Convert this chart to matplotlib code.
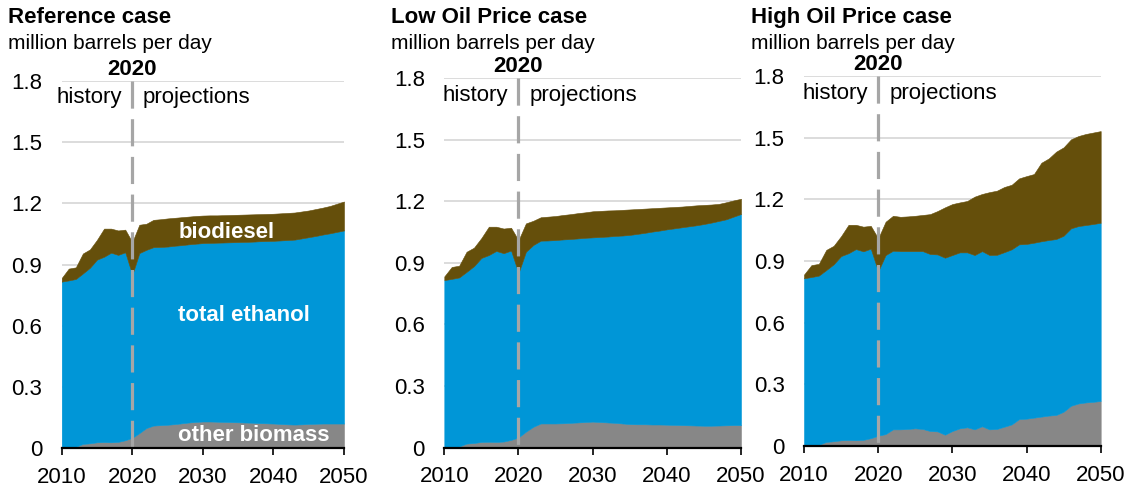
import numpy as np
import matplotlib
matplotlib.use("Agg")
import matplotlib.pyplot as plt

plt.rcParams['font.family'] = ['Liberation Sans', 'DejaVu Sans']

years = list(range(2010, 2051))

# ---- history 2010-2020 (shared by all cases) ----
hist_other = [0.000, 0.002, 0.006, 0.020, 0.023, 0.028, 0.029, 0.028, 0.030, 0.038, 0.050]
hist_ethanol = [0.816, 0.820, 0.823, 0.836, 0.861, 0.896, 0.909, 0.930, 0.917, 0.922, 0.800]
hist_biodiesel = [0.018, 0.058, 0.057, 0.098, 0.090, 0.097, 0.138, 0.118, 0.120, 0.111, 0.160]

# ---- projections 2021-2050 ----
ref_other = [0.073, 0.098, 0.110, 0.112, 0.114, 0.117, 0.121, 0.125, 0.128, 0.130,
             0.130, 0.129, 0.128, 0.127, 0.126, 0.125, 0.124, 0.122, 0.121, 0.120,
             0.118, 0.116, 0.115, 0.116, 0.118, 0.119, 0.120, 0.120, 0.120, 0.120]
ref_ethanol = [0.883, 0.874, 0.875, 0.874, 0.874, 0.875, 0.874, 0.874, 0.874, 0.875,
               0.876, 0.878, 0.880, 0.882, 0.884, 0.886, 0.888, 0.892, 0.894, 0.896,
               0.900, 0.904, 0.907, 0.912, 0.916, 0.921, 0.927, 0.933, 0.940, 0.947]
ref_biodiesel = [0.139, 0.128, 0.134, 0.136, 0.138, 0.137, 0.137, 0.136, 0.136, 0.135,
                 0.135, 0.134, 0.134, 0.134, 0.134, 0.134, 0.134, 0.133, 0.133, 0.133,
                 0.133, 0.133, 0.133, 0.132, 0.131, 0.132, 0.132, 0.134, 0.138, 0.142]

low_other = [0.078, 0.102, 0.118, 0.118, 0.118, 0.119, 0.121, 0.123, 0.125, 0.127,
             0.125, 0.123, 0.121, 0.118, 0.115, 0.114, 0.114, 0.113, 0.113, 0.112,
             0.111, 0.110, 0.109, 0.108, 0.107, 0.107, 0.108, 0.109, 0.110, 0.110]
low_ethanol = [0.876, 0.885, 0.890, 0.891, 0.893, 0.895, 0.895, 0.896, 0.897, 0.897,
               0.901, 0.905, 0.910, 0.915, 0.921, 0.927, 0.932, 0.939, 0.944, 0.951,
               0.957, 0.963, 0.969, 0.975, 0.982, 0.989, 0.996, 1.003, 1.015, 1.028]
low_biodiesel = [0.138, 0.118, 0.114, 0.116, 0.117, 0.119, 0.121, 0.123, 0.124, 0.127,
                 0.127, 0.127, 0.125, 0.125, 0.124, 0.121, 0.118, 0.114, 0.111, 0.107,
                 0.104, 0.101, 0.099, 0.097, 0.093, 0.088, 0.083, 0.083, 0.079, 0.074]

high_other = [0.058, 0.081, 0.081, 0.083, 0.086, 0.083, 0.073, 0.071, 0.055, 0.073,
              0.086, 0.091, 0.081, 0.096, 0.081, 0.083, 0.094, 0.105, 0.131, 0.133,
              0.138, 0.143, 0.148, 0.151, 0.167, 0.196, 0.207, 0.212, 0.215, 0.219]
high_ethanol = [0.871, 0.869, 0.867, 0.865, 0.862, 0.865, 0.861, 0.861, 0.861, 0.856,
                0.856, 0.851, 0.848, 0.852, 0.848, 0.847, 0.849, 0.852, 0.850, 0.850,
                0.851, 0.853, 0.854, 0.856, 0.856, 0.863, 0.863, 0.863, 0.865, 0.867]
high_biodiesel = [0.162, 0.170, 0.167, 0.169, 0.172, 0.176, 0.194, 0.211, 0.245, 0.248,
                  0.243, 0.250, 0.284, 0.278, 0.306, 0.312, 0.317, 0.314, 0.321, 0.330,
                  0.334, 0.382, 0.397, 0.425, 0.430, 0.433, 0.438, 0.443, 0.445, 0.446]

titles = ["Reference case", "Low Oil Price case", "High Oil Price case"]
subtitle = "million barrels per day"
yticks = [0, 0.3, 0.6, 0.9, 1.2, 1.5, 1.8]
yticklabels = ["0", "0.3", "0.6", "0.9", "1.2", "1.5", "1.8"]
xticks = [2010, 2020, 2030, 2040, 2050]
series_labels = ["other biomass", "total ethanol", "biodiesel"]

cases = [
    (hist_other + ref_other, hist_ethanol + ref_ethanol, hist_biodiesel + ref_biodiesel),
    (hist_other + low_other, hist_ethanol + low_ethanol, hist_biodiesel + low_biodiesel),
    (hist_other + high_other, hist_ethanol + high_ethanol, hist_biodiesel + high_biodiesel),
]

colors = ["#878787", "#0096D7", "#654F0B"]

W, H = 1130, 486
fig = plt.figure(figsize=(W / 100, H / 100), dpi=100)

# axes boxes in pixels: (left, right, y_zero, y_top)
boxes = [(61.7, 344.0, 448.0, 81.0),
         (444.3, 741.0, 447.7, 78.0),
         (804.0, 1100.7, 446.0, 76.0)]
title_x = [8, 391, 751]

for i, (case, box) in enumerate(zip(cases, boxes)):
    l, r, y0, y1 = box
    ax = fig.add_axes([l / W, 1 - y0 / H, (r - l) / W, (y0 - y1) / H])
    polys = ax.stackplot(years, *case, colors=colors, zorder=2)
    for p, c in zip(polys, colors):
        p.set_edgecolor(c)
        p.set_linewidth(0.4)
    ax.set_xlim(2010, 2050)
    ax.set_ylim(0, 1.8)
    ax.set_yticks(yticks)
    ax.set_yticklabels(yticklabels)
    ax.set_xticks(xticks)
    ax.grid(axis='y', color='#D9D9D9', linewidth=1.3, zorder=0)
    ax.set_axisbelow(True)
    for s in ['left', 'right', 'top']:
        ax.spines[s].set_visible(False)
    ax.spines['bottom'].set_linewidth(1.6)
    ax.spines['bottom'].set_color('black')
    ax.spines['bottom'].set_zorder(5)
    ax.tick_params(axis='y', length=0, pad=14, labelsize=16, colors='black')
    ax.tick_params(axis='x', length=5, width=1.2, pad=8.5, labelsize=16,
                   direction='out', colors='black')

    # 2020 divider
    ax.plot([2020, 2020], [1.8, 0], color='#A6A6A6', linewidth=2.3,
            dashes=(8.5, 3.3), zorder=4, clip_on=False)
    ax.text(2020, 1.83, "2020", ha='center', va='baseline', fontsize=16,
            fontweight='bold', clip_on=False)
    ax.text(2018.6, 1.69, "history", ha='right', va='baseline', fontsize=16)
    ax.text(2021.5, 1.69, "projections", ha='left', va='baseline', fontsize=16)

    fig.text(title_x[i] / W, 1 - 23 / H, titles[i], fontsize=16,
             fontweight='bold', ha='left', va='baseline')
    fig.text(title_x[i] / W, 1 - 49 / H, subtitle, fontsize=15,
             ha='left', va='baseline')

    if i == 0:
        ax.text(2026.5, 1.028, series_labels[2], color='white', fontsize=16,
                fontweight='bold', ha='left', va='baseline', zorder=6)
        ax.text(2026.5, 0.624, series_labels[1], color='white', fontsize=16,
                fontweight='bold', ha='left', va='baseline', zorder=6)
        ax.text(2026.5, 0.036, series_labels[0], color='white', fontsize=16,
                fontweight='bold', ha='left', va='baseline', zorder=6)

fig.savefig("out.png", dpi=100)
